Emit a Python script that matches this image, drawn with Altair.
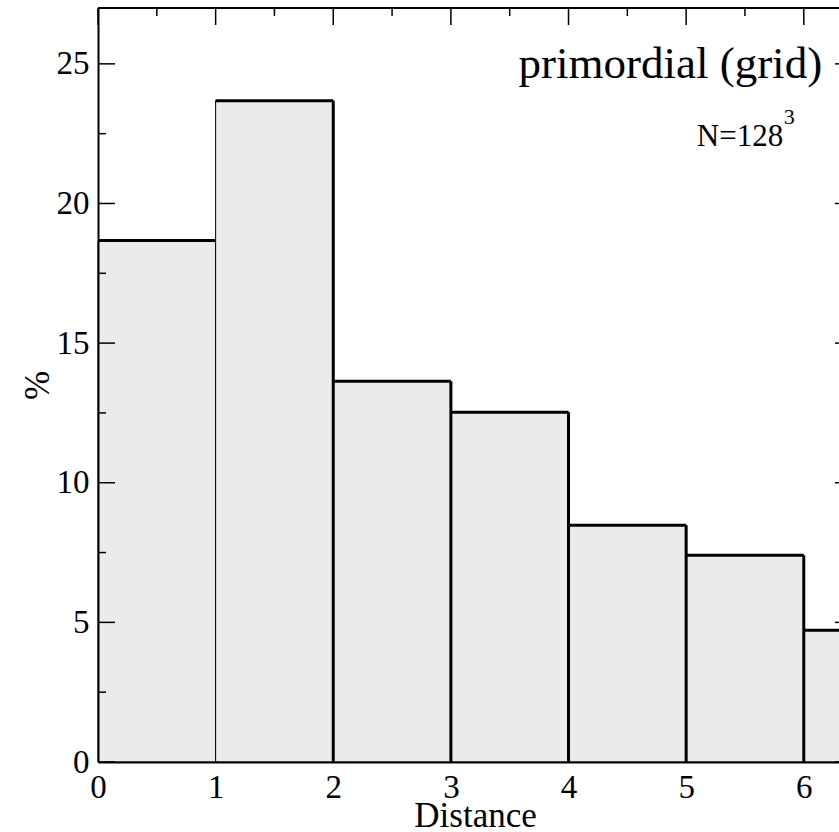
import altair as alt
import pandas as pd

# ---- data ----
bin_start = [0, 1, 2, 3, 4, 5, 6]
bin_end = [1, 2, 3, 4, 5, 6, 7]
percent = [18.67, 23.68, 13.63, 12.52, 8.48, 7.40, 4.72]

x_major = [0, 1, 2, 3, 4, 5, 6]
x_minor = [0.5, 1.5, 2.5, 3.5, 4.5, 5.5]
y_major = [0, 5, 10, 15, 20, 25]
y_minor = [2.5, 7.5, 12.5, 17.5, 22.5]

title_text = ["primordial (grid)"]
title_pos = [6.156, 24.5]
n_text = ["N=128"]
n_pos = [5.825, 22.07]
sup_text = ["3"]
sup_pos = [5.83, 22.85]

FONT = "Liberation Serif"
PLOT_W = 741          # visible part of the plot area
RANGE_W = 754         # full plot area (right part is cut by the window)
PLOT_H = 754

bars = pd.DataFrame({"x0": bin_start, "x1": bin_end, "p": percent})
# thick right edge visible only where the next bar is lower
nxt = percent[1:] + [0]
right_edges = pd.DataFrame({
    "x0": [e for e, h, n in zip(bin_end, percent, nxt) if n < h],
    "p": [h for e, h, n in zip(bin_end, percent, nxt) if n < h],
})

xs = alt.Scale(domain=[0, 6.41], range=[0, RANGE_W], nice=False, zero=False)
ys = alt.Scale(domain=[0, 27], nice=False)

x_axis = alt.Axis(values=x_major, format="d", ticks=False, tickSize=0, grid=False,
                  labelFlush=False, labelOverlap=False,
                  labelPadding=9, labelFontSize=33, labelFont=FONT, labelColor="black",
                  domainColor="black", domainWidth=2, title="Distance",
                  titleFont=FONT, titleFontSize=35, titleFontWeight="normal",
                  titleColor="black", titleX=RANGE_W / 2, titleY=64,
                  titleBaseline="alphabetic", titleAlign="center", zindex=1)
y_axis = alt.Axis(values=y_major, format="d", ticks=False, tickSize=0, grid=False,
                  labelFlush=False, labelOverlap=False,
                  labelPadding=9, labelFontSize=33, labelFont=FONT, labelColor="black",
                  domainColor="black", domainWidth=2, title="%",
                  titleFont=FONT, titleFontSize=35, titleFontWeight="normal",
                  titleColor="black", titleX=-50, titleY=PLOT_H / 2,
                  titleBaseline="alphabetic", titleAlign="center", zindex=1)

def X(field):
    return alt.X(field, scale=xs, axis=x_axis)

def Y(field):
    return alt.Y(field, scale=ys, axis=y_axis)

rects = alt.Chart(bars).mark_rect(fill="#ebebeb", stroke="black", strokeWidth=1).encode(
    x=X("x0:Q"), x2="x1:Q", y=Y("p:Q"), y2=alt.datum(0),
)

tops = alt.Chart(bars).mark_rule(color="black", strokeWidth=3).encode(
    x=X("x0:Q"), x2="x1:Q", y=Y("p:Q"),
)

rights = alt.Chart(right_edges).mark_rule(color="black", strokeWidth=3).encode(
    x=X("x0:Q"), y=Y("p:Q"), y2=alt.datum(0),
)

ymaj = pd.DataFrame({"p": y_major})
ymin = pd.DataFrame({"p": y_minor})
xmaj = pd.DataFrame({"x0": x_major})
xmin = pd.DataFrame({"x0": x_minor})

def hticks(df, x0, x1):
    return alt.Chart(df).mark_rule(color="black", strokeWidth=1.5).encode(
        y=Y("p:Q"), x=alt.value(x0), x2=alt.value(x1))

def vticks(df, length):
    return alt.Chart(df).mark_rule(color="black", strokeWidth=1.5).encode(
        x=X("x0:Q"), y=alt.value(0), y2=alt.value(length))

top_line = alt.Chart(pd.DataFrame({"v": [0]})).mark_rule(color="black", strokeWidth=2).encode(
    x=alt.value(0), x2=alt.value(RANGE_W), y=alt.value(0))

def label(text, pos, size, align):
    df = pd.DataFrame({"t": text, "x0": [pos[0]], "p": [pos[1]]})
    return alt.Chart(df).mark_text(font=FONT, fontSize=size, align=align,
                                   baseline="alphabetic", color="black").encode(
        x=X("x0:Q"), y=Y("p:Q"), text="t:N")

chart = alt.layer(
    rects, tops, rights,
    hticks(ymaj, 0, 17), hticks(ymin, 0, 8),
    hticks(ymaj, RANGE_W - 17, RANGE_W), hticks(ymin, RANGE_W - 8, RANGE_W),
    vticks(xmaj, 17), vticks(xmin, 8),
    top_line,
    label(title_text, title_pos, 45, "right"),
    label(n_text, n_pos, 31, "right"),
    label(sup_text, sup_pos, 22, "left"),
).properties(
    width=PLOT_W, height=PLOT_H,
    autosize=alt.AutoSizeParams(type="none"),
    padding={"left": 98, "top": 8, "right": 0, "bottom": 70},
    background="white",
).configure_view(stroke=None)

chart.save("out.html", embed_options={"renderer": "svg", "actions": False})
